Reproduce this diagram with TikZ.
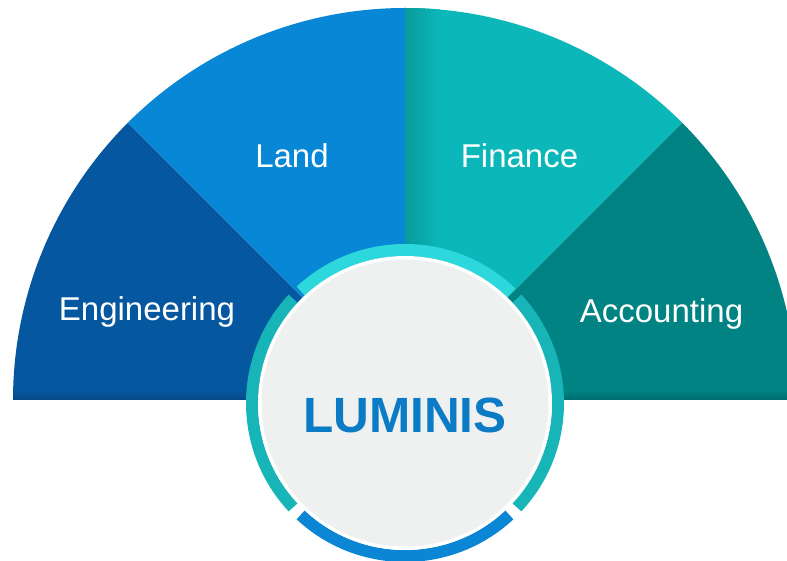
\documentclass[tikz,border=0pt]{standalone}
\usepackage{fontspec}
\setmainfont{Liberation Sans}
\definecolor{engc}{HTML}{05579F}
\definecolor{engd}{HTML}{034884}
\definecolor{landc}{HTML}{0787D5}
\definecolor{landd}{HTML}{05609E}
\definecolor{finc}{HTML}{0CB7B9}
\definecolor{find}{HTML}{089A9D}
\definecolor{accc}{HTML}{018383}
\definecolor{accd}{HTML}{006B6C}
\definecolor{ringtop}{HTML}{2CD8DB}
\definecolor{ringside}{HTML}{17B5B7}
\definecolor{ringbot}{HTML}{0A86D4}
\definecolor{discc}{HTML}{EFF1F1}
\definecolor{logoc}{HTML}{0A7BC4}
\tikzset{
  label/.style={text=white, anchor=base, inner sep=0pt, font=\fontsize{33}{40}\selectfont},
  ringseg/.style={line width=12pt},
}
\begin{document}
\begin{tikzpicture}[x=1pt,y=1pt]
\useasboundingbox (0,0) rectangle (787,560);
\clip (0,0) rectangle (787,560);
\coordinate (C) at (405,160);
\coordinate (D) at (405,157);
% sectors
\fill[engc] (C) -- ++(180:392) arc[start angle=180,end angle=135,radius=392] -- cycle;
\fill[landc] (C) -- ++(135:392) arc[start angle=135,end angle=90,radius=392] -- cycle;
\fill[finc] (C) -- ++(90:392) arc[start angle=90,end angle=45,radius=392] -- cycle;
\fill[accc] (C) -- ++(45:392) arc[start angle=45,end angle=0,radius=392] -- cycle;
% soft shading
\begin{scope}
\clip (C) -- ++(90:392) arc[start angle=90,end angle=45,radius=392] -- cycle;
\shade[left color=find, right color=finc] (405,160) rectangle (440,560);
\end{scope}
\begin{scope}
\clip (C) -- ++(45:392) arc[start angle=45,end angle=0,radius=392] -- cycle;
\shade[top color=accc, bottom color=accd] (405,160) rectangle (800,170);
\end{scope}
\begin{scope}
\clip (C) -- ++(180:392) arc[start angle=180,end angle=135,radius=392] -- cycle;
\shade[top color=engc, bottom color=engd] (0,160) rectangle (405,170);
\end{scope}
% ring segments
\draw[ringseg, ringtop] (D) ++(46:153) arc[start angle=46,end angle=133,radius=153];
\draw[ringseg, ringside] (D) ++(137:153) arc[start angle=137,end angle=223,radius=153];
\draw[ringseg, ringbot] (D) ++(227:153) arc[start angle=227,end angle=313,radius=153];
\draw[ringseg, ringside] (D) ++(-43:153) arc[start angle=-43,end angle=43,radius=153];
% disc
\fill[white] (D) circle[radius=147];
\fill[discc] (D) circle[radius=143.5];
% labels
\node[label] (eng) at (147,239) {Engineering};
\node[label] (land) at (292,392) {Land};
\node[label] (fin) at (519.5,392) {Finance};
\node[label] (acc) at (661.5,237) {Accounting};
\node[anchor=base, inner sep=0pt, text=logoc, font=\fontsize{49.5}{58}\selectfont\bfseries] (logo) at (405,128) {LUMINIS};
\end{tikzpicture}
\end{document}
